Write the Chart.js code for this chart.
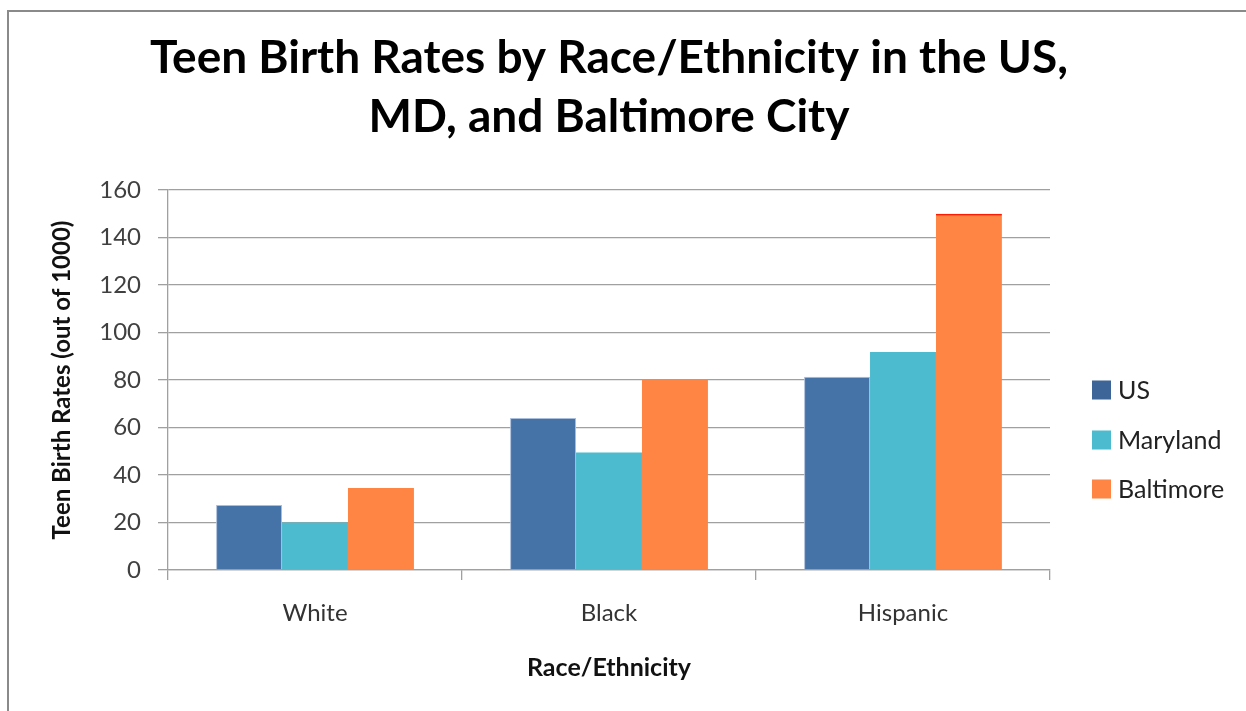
<!DOCTYPE html>
<html><head><meta charset="utf-8">
<script src="https://cdn.jsdelivr.net/npm/chart.js@4"></script>
<style>html,body{margin:0;padding:0;background:#fff;overflow:hidden}#wrap{width:1246px;height:711px;position:relative}</style>
</head><body><div id="wrap"><canvas id="c" width="1246" height="711"></canvas></div>
<script>
const categories = ['White', 'Black', 'Hispanic'];
const seriesNames = ['US', 'Maryland', 'Baltimore'];
const usValues = [27.4, 64.0, 81.4];
const marylandValues = [20.0, 49.5, 91.8];
const baltimoreValues = [34.5, 80.3, 150.0];
const yTickValues = [0, 20, 40, 60, 80, 100, 120, 140, 160];
const titleLines = ['Teen Birth Rates by Race/Ethnicity in the US,', 'MD, and Baltimore City'];
const yAxisTitle = 'Teen Birth Rates (out of 1000)';
const xAxisTitle = 'Race/Ethnicity';

const colors = ['#4572A7', '#4DBBCF', '#FF8544'];
const FONT = 'Lato, "Open Sans", sans-serif';

const framePlugin = {
  id: 'frame',
  beforeDraw(chart) {
    const c = chart.ctx;
    c.save();
    c.fillStyle = '#fff';
    c.fillRect(0, 0, chart.width, chart.height);
    c.strokeStyle = '#8a8a8a';
    c.lineWidth = 2;
    c.beginPath();
    c.moveTo(8, chart.height);
    c.lineTo(8, 11);
    c.lineTo(chart.width, 11);
    c.stroke();
    c.restore();
  },
  afterDraw(chart) {
    const c = chart.ctx;
    const a = chart.chartArea;
    c.save();
    c.fillStyle = '#000';
    c.font = 'bold 46px ' + FONT;
    c.textAlign = 'center';
    c.textBaseline = 'alphabetic';
    const cx = (a.left + a.right) / 2;
    c.fillText(titleLines[0], cx, 73);
    c.fillText(titleLines[1], cx, 132);
    const ys = [390, 440, 489];
    c.font = '25px ' + FONT;
    c.textAlign = 'left';
    c.textBaseline = 'middle';
    chart.data.datasets.forEach((ds, i) => {
      c.fillStyle = i === 0 ? '#3E6598' : ds.backgroundColor;
      c.fillRect(1092, ys[i] - 9.5, 19, 19);
      c.fillStyle = '#222';
      c.fillText(ds.label, 1118, ys[i] + 1);
    });
    c.restore();
  }
};

new Chart(document.getElementById('c'), {
  type: 'bar',
  data: {
    labels: categories,
    datasets: [
      { label: seriesNames[0], data: usValues, backgroundColor: colors[0], borderColor: '#a9bedb', borderWidth: 1 },
      { label: seriesNames[1], data: marylandValues, backgroundColor: colors[1], borderWidth: 0 },
      { label: seriesNames[2], data: baltimoreValues, backgroundColor: colors[2],
        borderColor: ctx => ctx.dataIndex === 2 ? '#ff1a00' : colors[2],
        borderWidth: ctx => ctx.dataIndex === 2 ? { top: 2, left: 0, right: 0, bottom: 0 } : 0 }
    ]
  },
  options: {
    responsive: false,
    devicePixelRatio: 1,
    animation: false,
    datasets: { bar: { barPercentage: 1, categoryPercentage: 0.673 } },
    layout: { padding: { left: 20, top: 190, right: 196, bottom: 28 } },
    plugins: { legend: { display: false }, title: { display: false }, tooltip: { enabled: false } },
    scales: {
      y: {
        min: 0, max: 160,
        afterFit: s => { s.width = 148; },
        afterBuildTicks: s => { s.ticks = yTickValues.map(v => ({ value: v })); },
        ticks: { color: '#404040', font: { family: FONT, size: 24 }, padding: 17 },
        grid: { color: '#a0a0a0', lineWidth: 1.3, tickLength: 10, tickColor: '#a0a0a0' },
        border: { display: true, color: '#a0a0a0', width: 1.3 },
        title: { display: true, text: yAxisTitle, color: '#111', font: { family: FONT, size: 24, weight: 'bold' }, padding: { top: 28, bottom: 0 } }
      },
      x: {
        afterFit: s => { s.height = 113; },
        ticks: { color: '#333', font: { family: FONT, size: 24 }, padding: 19 },
        grid: { drawOnChartArea: false, tickLength: 10, color: '#a0a0a0', lineWidth: 1.3 },
        border: { display: true, color: '#a0a0a0', width: 1.3 },
        title: { display: true, text: xAxisTitle, color: '#111', font: { family: FONT, size: 25, weight: 'bold' }, padding: { top: 0, bottom: 0 } }
      }
    }
  },
  plugins: [framePlugin]
});
</script>
</body></html>
